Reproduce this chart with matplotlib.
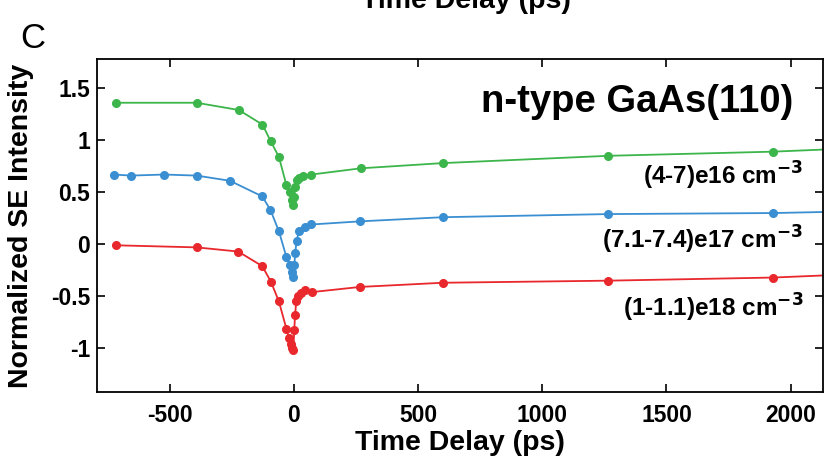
import numpy as np
import matplotlib
matplotlib.use("Agg")
import matplotlib.pyplot as plt

plt.rcParams['font.family'] = ['Liberation Sans', 'DejaVu Sans']
plt.rcParams['axes.unicode_minus'] = False

# time delays (ps) and normalized SE intensity for each doping level
t_green = [-714, -391, -221, -126, -93, -60, -30, -15, -8, -3, 2, 6, 12, 20, 37, 71,
           270, 600, 1265, 1930]
y_green = [1.36, 1.36, 1.29, 1.15, 0.99, 0.84, 0.57, 0.50, 0.43, 0.38, 0.45, 0.55,
           0.62, 0.64, 0.66, 0.67, 0.73, 0.78, 0.85, 0.89]

t_blue = [-723, -656, -522, -391, -257, -127, -94, -60, -30, -15, -8, -3, 2, 6, 11,
          21, 44, 71, 266, 600, 1265, 1930]
y_blue = [0.67, 0.66, 0.67, 0.66, 0.61, 0.46, 0.33, 0.125, -0.12, -0.20, -0.27,
          -0.31, -0.20, -0.08, 0.03, 0.13, 0.17, 0.19, 0.22, 0.26, 0.29, 0.30]

t_red = [-716, -391, -224, -127, -92, -60, -30, -20, -12, -6, -2, 2, 5, 10, 18, 30,
         45, 72, 268, 600, 1265, 1930]
y_red = [-0.01, -0.03, -0.07, -0.21, -0.36, -0.55, -0.81, -0.90, -0.96, -1.00, -1.02,
         -0.82, -0.68, -0.55, -0.50, -0.47, -0.44, -0.46, -0.41, -0.37, -0.35, -0.32]

# fitted curves continue to the right edge of the axes
t_end = 2130
fit_end = {'green': 0.91, 'blue': 0.31, 'red': -0.30}

labels = ['(4-7)e16 cm$^{\\mathbf{-3}}$', '(7.1-7.4)e17 cm$^{\\mathbf{-3}}$',
          '(1-1.1)e18 cm$^{\\mathbf{-3}}$']
label_y = [0.66, 0.04, -0.61]

colors = {'green': '#3cb54b', 'blue': '#3a8fd2', 'red': '#e8282c'}

fig = plt.figure(figsize=(8.25, 4.65), dpi=100)
ax = fig.add_axes([0.1176, 0.157, 0.88, 0.716])

series = [('green', t_green, y_green), ('blue', t_blue, y_blue), ('red', t_red, y_red)]
for name, t, y in series:
    c = colors[name]
    ax.plot(list(t) + [t_end], list(y) + [fit_end[name]], '-', color=c, lw=1.3, zorder=2)
    ax.plot(t, y, 'o', color=c, ms=5.5, mec=c, zorder=3)

for txt, ly in zip(labels, label_y):
    ax.text(2050, ly, txt, ha='right', va='center', fontsize=17.5, fontweight='bold')

ax.text(2010, 1.37, 'n-type GaAs(110)', ha='right', va='center', fontsize=27.5,
        fontweight='bold')

ax.set_xlim(-792, 2130)
ax.set_ylim(-1.42, 1.78)
ax.set_xticks([-500, 0, 500, 1000, 1500, 2000])
ax.set_yticks([-1, -0.5, 0, 0.5, 1, 1.5])
ax.set_yticklabels(['-1', '-0.5', '0', '0.5', '1', '1.5'])
ax.tick_params(direction='in', length=6, width=1.2, top=True, right=True,
               labelsize=16.5)
ax.tick_params(axis='x', pad=9)
ax.tick_params(axis='y', pad=5)
for lab in ax.get_xticklabels() + ax.get_yticklabels():
    lab.set_fontweight('bold')
for sp in ax.spines.values():
    sp.set_linewidth(1.3)

ax.set_xlabel('Time Delay (ps)', fontsize=20.5, fontweight='bold', labelpad=2)
ax.set_ylabel('Normalized SE Intensity', fontsize=20.5, fontweight='bold', labelpad=12)

fig.text(0.024, 0.918, 'C', fontsize=25, va='center')
# x label of the panel above, cut off by the top edge
fig.text(466 / 825, 0.983, 'Time Delay (ps)', fontsize=20.5, fontweight='bold',
         ha='center', va='baseline')

fig.savefig('out.png', dpi=100)
